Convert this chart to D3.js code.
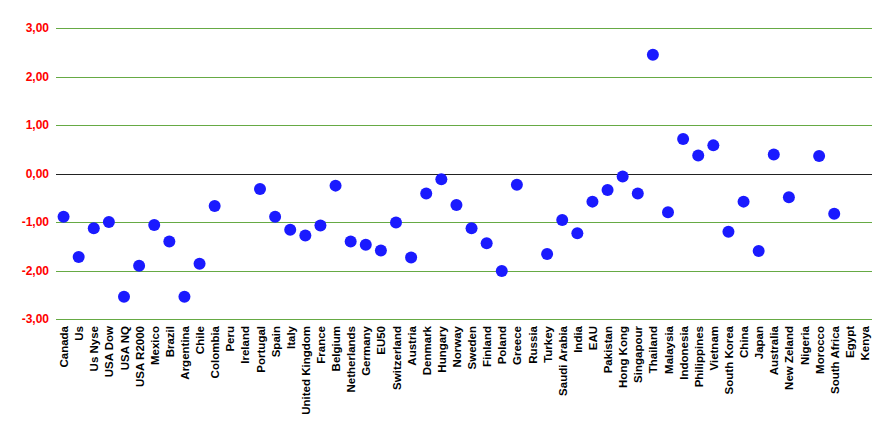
<!DOCTYPE html>
<html><head><meta charset="utf-8">
<script src="https://cdn.jsdelivr.net/npm/d3@7"></script>
<style>body{margin:0;background:#fff}svg{display:block}</style>
</head><body>
<svg id="c" width="893" height="436"></svg>
<script>
const categories = ["Canada","Us","Us Nyse","USA Dow","USA NQ","USA R2000","Mexico","Brazil","Argentina","Chile","Colombia","Peru","Ireland","Portugal","Spain","Italy","United Kingdom","France","Belgium","Netherlands","Germany","EU50","Switzerland","Austria","Denmark","Hungary","Norway","Sweden","Finland","Poland","Greece","Russia","Turkey","Saudi Arabia","India","EAU","Pakistan","Hong Kong","Singapour","Thailand","Malaysia","Indonesia","Philippines","Vietnam","South Korea","China","Japan","Australia","New Zeland","Nigeria","Morocco","South Africa","Egypt","Kenya"];
const values = [-0.89,-1.72,-1.13,-1.00,-2.54,-1.90,-1.06,-1.40,-2.54,-1.86,-0.67,null,null,-0.32,-0.89,-1.16,-1.28,-1.07,-0.25,-1.40,-1.47,-1.59,-1.01,-1.73,-0.41,-0.12,-0.65,-1.13,-1.44,-2.01,-0.23,null,-1.66,-0.96,-1.23,-0.58,-0.34,-0.06,-0.41,2.45,-0.80,0.71,0.37,0.58,-1.20,-0.58,-1.60,0.39,-0.49,null,0.36,-0.83,null,null];
const yTicks = [3,2,1,0,-1,-2,-3];

(function(){
const svg = d3.select("#c");
const mLeft = 56, mRight = 872, mTop = 28, mBottom = 319;
const x = d3.scalePoint().domain(categories).range([mLeft, mRight]).padding(0.5);
const y = d3.scaleLinear().domain([-3, 3]).range([mBottom, mTop]);
const fmt = v => d3.format(".2f")(v).replace(".", ",").replace("−","-");

const yAxis = d3.axisLeft(y).tickValues(yTicks).tickSize(0).tickPadding(7).tickFormat(fmt);
const ga = svg.append("g").attr("transform", `translate(${mLeft},0)`).call(yAxis);
ga.select(".domain").remove();
ga.selectAll("text").attr("fill", "#ff0000").style("font-family", "'Liberation Sans', Arial, sans-serif").style("font-size", "12px").style("font-weight", "bold");

svg.append("g").selectAll("line").data(yTicks).join("line")
  .attr("x1", mLeft).attr("x2", mRight)
  .attr("y1", d => Math.round(y(d)) + 0.5).attr("y2", d => Math.round(y(d)) + 0.5)
  .attr("stroke", d => d === 0 ? "#222222" : "#66aa44").attr("stroke-width", 1);

const xAxis = d3.axisBottom(x).tickSize(0).tickPadding(0);
const gx = svg.append("g").attr("transform", `translate(0,${mBottom})`).call(xAxis);
gx.select(".domain").remove();
gx.selectAll("text")
  .attr("transform", "rotate(-90)")
  .attr("text-anchor", "end")
  .attr("x", -7).attr("y", 0).attr("dy", "0.35em")
  .attr("fill", "#000")
  .style("font-family", "'Liberation Sans', Arial, sans-serif").style("font-size", "11.5px").style("font-weight", "bold");

const pts = categories.map((c, i) => ({c, v: values[i]})).filter(d => d.v !== null);
svg.append("g").selectAll("circle").data(pts).join("circle")
  .attr("cx", d => x(d.c)).attr("cy", d => y(d.v)).attr("r", 6)
  .attr("fill", "#1a1aff");
})();
</script>
</body></html>
